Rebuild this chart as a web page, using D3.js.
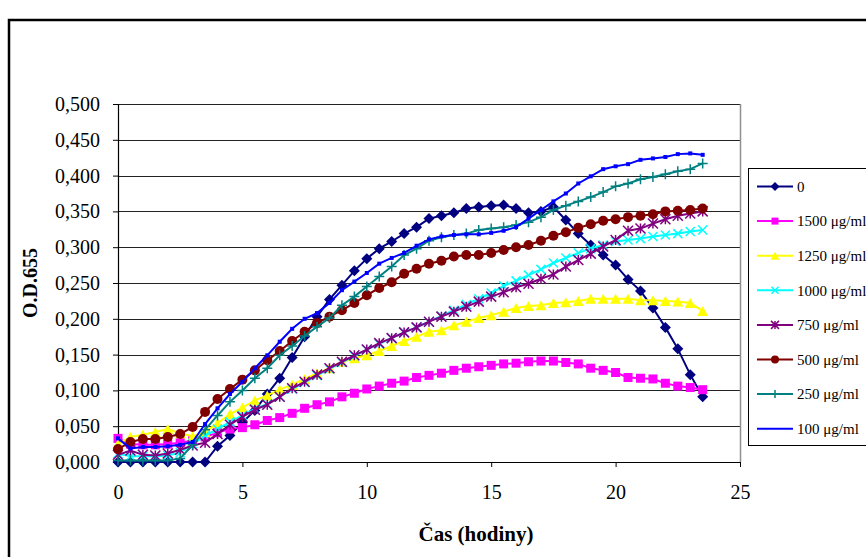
<!DOCTYPE html>
<html><head><meta charset="utf-8">
<script src="https://cdn.jsdelivr.net/npm/d3@7"></script>
<style>
html,body{margin:0;padding:0;background:#fff;}
svg{display:block;}
text{font-family:"Liberation Serif","Times New Roman",serif;}
</style></head>
<body>
<svg id="chart" width="866" height="557"></svg>
<script>
// ---------- data ----------
const hours = [0,0.5,1,1.5,2,2.5,3,3.5,4,4.5,5,5.5,6,6.5,7,7.5,8,8.5,9,9.5,10,10.5,11,11.5,
               12,12.5,13,13.5,14,14.5,15,15.5,16,16.5,17,17.5,18,18.5,19,19.5,20,20.5,21,21.5,22,22.5,23,23.5];
const seriesNames = ["0","1500 μg/ml","1250 μg/ml","1000 μg/ml","750 μg/ml","500 μg/ml","250 μg/ml","100 μg/ml"];
const s0    = [0,0,0,0,0,0,0,0, 0.022,0.037,0.055,0.072,0.095,0.117,0.146,0.175,
               0.203,0.227,0.247,0.267,0.284,0.298,0.308,0.319, 0.328,0.340,0.344,0.348,0.354,0.356,0.358,0.359,
               0.354,0.348,0.350,0.356,0.338,0.319,0.303,0.289, 0.275,0.255,0.239,0.215,0.188,0.158,0.122,0.091];
const s1500 = [0.033,0.025,0.024,0.024,0.025,0.027,0.030,0.035, 0.041,0.046,0.048,0.052,0.058,0.062,0.068,0.075,
               0.080,0.084,0.091,0.096,0.102,0.106,0.110,0.113, 0.118,0.121,0.124,0.128,0.131,0.133,0.135,0.137,
               0.138,0.140,0.141,0.141,0.139,0.137,0.131,0.128, 0.125,0.118,0.117,0.116,0.110,0.106,0.104,0.101];
const s1250 = [0.025,0.035,0.038,0.042,0.046,0.040,0.036,0.042, 0.054,0.067,0.076,0.086,0.093,0.101,0.108,0.116,
               0.124,0.131,0.140,0.145,0.149,0.155,0.162,0.169, 0.175,0.182,0.184,0.191,0.196,0.201,0.205,0.210,
               0.215,0.218,0.219,0.222,0.223,0.225,0.228,0.228, 0.228,0.228,0.226,0.226,0.225,0.224,0.222,0.211];
const s1000 = [0.012,0.008,0.008,0.008,0.009,0.013,0.025,0.037, 0.046,0.056,0.065,0.074,0.081,0.091,0.102,0.111,
               0.121,0.130,0.139,0.148,0.157,0.165,0.173,0.181, 0.188,0.196,0.204,0.212,0.220,0.228,0.236,0.246,
               0.253,0.261,0.269,0.278,0.285,0.292,0.298,0.303, 0.308,0.310,0.312,0.315,0.317,0.319,0.322,0.324];
const s750  = [0.010,0.016,0.010,0.009,0.012,0.017,0.023,0.027, 0.039,0.052,0.063,0.073,0.080,0.091,0.103,0.112,
               0.122,0.131,0.140,0.149,0.157,0.166,0.173,0.181, 0.188,0.196,0.203,0.210,0.217,0.224,0.231,0.237,
               0.244,0.249,0.256,0.262,0.273,0.282,0.291,0.301, 0.310,0.323,0.326,0.333,0.339,0.344,0.347,0.350];
const s500  = [0.018,0.028,0.032,0.032,0.035,0.039,0.049,0.070, 0.088,0.102,0.115,0.128,0.142,0.155,0.169,0.182,
               0.194,0.203,0.212,0.222,0.233,0.243,0.251,0.263, 0.270,0.277,0.281,0.287,0.289,0.289,0.292,0.296,
               0.300,0.303,0.309,0.316,0.321,0.327,0.332,0.337, 0.339,0.342,0.344,0.346,0.350,0.351,0.352,0.354];
const s250  = [0.002,0.002,0.002,0.002,0.002,0.005,0.024,0.045, 0.065,0.084,0.100,0.117,0.131,0.149,0.162,0.176,
               0.189,0.201,0.219,0.231,0.245,0.259,0.273,0.289, 0.298,0.309,0.314,0.317,0.319,0.324,0.326,0.328,
               0.331,0.335,0.342,0.352,0.358,0.364,0.370,0.377, 0.385,0.389,0.395,0.398,0.402,0.406,0.409,0.417];
const s100  = [0.033,0.019,0.021,0.021,0.022,0.024,0.028,0.053, 0.075,0.095,0.112,0.131,0.149,0.168,0.186,0.200,
               0.208,0.222,0.240,0.252,0.264,0.277,0.285,0.292, 0.302,0.311,0.315,0.317,0.318,0.318,0.320,0.323,
               0.328,0.340,0.352,0.364,0.375,0.389,0.399,0.409, 0.413,0.416,0.422,0.424,0.426,0.430,0.431,0.429];
const xTicks = [0,5,10,15,20,25];
const yTicks = [0,0.05,0.1,0.15,0.2,0.25,0.3,0.35,0.4,0.45,0.5];
const xTitle = "Čas (hodiny)";
const yTitle = "O.D.655";

// ---------- styles ----------
const styles = [
  {color:"#000080", marker:"diamond", size:10},
  {color:"#FF00FF", marker:"square", size:9},
  {color:"#FFFF00", marker:"triangle", size:10},
  {color:"#00FFFF", marker:"x", size:9},
  {color:"#800080", marker:"star", size:10},
  {color:"#800000", marker:"circle", size:10},
  {color:"#008080", marker:"plus", size:10},
  {color:"#0000FF", marker:"smallsquare", size:4}
];
const allSeries = [s0,s1500,s1250,s1000,s750,s500,s250,s100];

const svg = d3.select("#chart");
svg.append("rect").attr("width",866).attr("height",557).attr("fill","#fff");
// outer frame
svg.append("path").attr("d","M9,600 L9,20 L900,20").attr("fill","none").attr("stroke","#000").attr("stroke-width",2.5);

const x = d3.scaleLinear().domain([0,25]).range([118,740]);
const y = d3.scaleLinear().domain([0,0.5]).range([462,104]);

// gridlines
svg.append("g").selectAll("line").data(yTicks.filter(v=>v>0)).join("line")
  .attr("x1",118).attr("x2",740).attr("y1",d=>Math.round(y(d))+0.5).attr("y2",d=>Math.round(y(d))+0.5)
  .attr("stroke","#222").attr("stroke-width",1);
// plot right border
svg.append("line").attr("x1",740.5).attr("x2",740.5).attr("y1",Math.round(y(0.5))).attr("y2",462)
  .attr("stroke","#909090").attr("stroke-width",1.5);

const loc = d3.formatLocale({decimal:",",thousands:" ",grouping:[3],currency:["",""]});
const fmt = loc.format(".3f");

const yAxis = svg.append("g").attr("transform","translate(118,0)")
  .call(d3.axisLeft(y).tickValues(yTicks).tickFormat(fmt).tickSize(5).tickPadding(13));
const xAxis = svg.append("g").attr("transform","translate(0,462)")
  .call(d3.axisBottom(x).tickValues(xTicks).tickFormat(d3.format("d")).tickSize(5).tickPadding(18));
[yAxis,xAxis].forEach(a=>{
  a.selectAll("path.domain").attr("stroke","#000").attr("stroke-width",1.2);
  a.selectAll(".tick line").attr("stroke","#000");
  a.selectAll("text").attr("font-family","'Liberation Serif',serif").attr("font-size",20).attr("fill","#000");
});
xAxis.select("path.domain").attr("d","M118,0.5H740.5");

// titles
svg.append("text").attr("x",476).attr("y",541).attr("text-anchor","middle")
  .attr("font-size",21).attr("font-weight","bold").text(xTitle);
svg.append("text").attr("transform","translate(37,283) rotate(-90)").attr("text-anchor","middle")
  .attr("font-size",20).attr("font-weight","bold").text(yTitle);

// marker drawing
function drawMarker(g, type, color, s){
  const h = s/2;
  switch(type){
    case "diamond": return g.append("path").attr("d",`M0,${-h-0.5}L${h+0.5},0L0,${h+0.5}L${-h-0.5},0Z`).attr("fill",color);
    case "square": return g.append("rect").attr("x",-h).attr("y",-h).attr("width",s).attr("height",s).attr("fill",color);
    case "smallsquare": return g.append("rect").attr("x",-h).attr("y",-h).attr("width",s).attr("height",s).attr("fill",color);
    case "triangle": return g.append("path").attr("d",`M0,${-h}L${h+0.5},${h}L${-h-0.5},${h}Z`).attr("fill",color);
    case "circle": return g.append("circle").attr("r",h).attr("fill",color);
    case "x": return g.append("path").attr("d",`M${-h},${-h}L${h},${h}M${-h},${h}L${h},${-h}`).attr("stroke",color).attr("stroke-width",1.5).attr("fill","none");
    case "star": return g.append("path").attr("d",`M${-h},${-h}L${h},${h}M${-h},${h}L${h},${-h}M0,${-h}L0,${h}`).attr("stroke",color).attr("stroke-width",1.5).attr("fill","none");
    case "plus": return g.append("path").attr("d",`M${-h},0L${h},0M0,${-h}L0,${h}`).attr("stroke",color).attr("stroke-width",1.5).attr("fill","none");
  }
}

const line = d3.line().x((d,i)=>x(hours[i])).y(d=>y(d));
allSeries.forEach((vals,si)=>{
  const st = styles[si];
  const g = svg.append("g");
  g.append("path").attr("d",line(vals)).attr("fill","none").attr("stroke",st.color).attr("stroke-width",2);
  vals.forEach((v,i)=>{
    const mg = g.append("g").attr("transform",`translate(${x(hours[i])},${y(v)})`);
    drawMarker(mg, st.marker, st.color, st.size);
  });
});

// legend
const lg = svg.append("g");
lg.append("rect").attr("x",748.5).attr("y",168.5).attr("width",140).attr("height",277).attr("fill","#fff").attr("stroke","#000").attr("stroke-width",1);
seriesNames.forEach((name,i)=>{
  const st = styles[i];
  const ly = 186.5 + i*34.6;
  lg.append("line").attr("x1",757).attr("x2",793).attr("y1",ly).attr("y2",ly).attr("stroke",st.color).attr("stroke-width",2);
  if(st.marker!=="smallsquare"){
    const mg = lg.append("g").attr("transform",`translate(775,${ly})`);
    drawMarker(mg, st.marker, st.color, st.size-2);
  }
  lg.append("text").attr("x",797).attr("y",ly).attr("dy","0.35em").attr("font-size",15).attr("fill","#000").text(name);
});
</script>
</body></html>
